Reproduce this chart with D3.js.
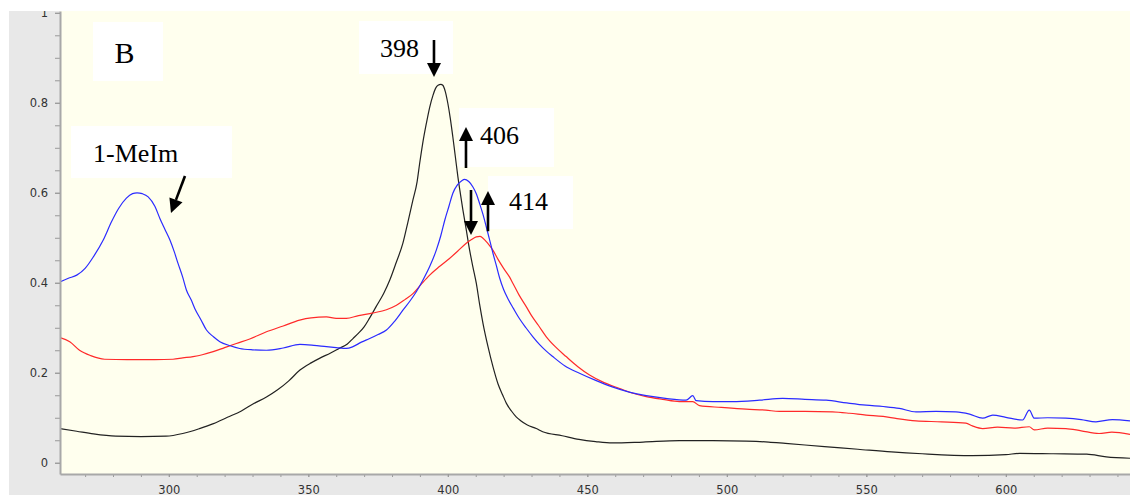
<!DOCTYPE html>
<html>
<head>
<meta charset="utf-8">
<script src="https://cdn.jsdelivr.net/npm/d3@7"></script>
<style>
body { margin: 0; background: #fff; }
.axis text { font-family: "DejaVu Sans", sans-serif; font-size: 11.5px; fill: #333; }
.axis line { stroke: #999; }
.axis path { stroke: #a8a8a8; stroke-width: 2px; }
.note { font-family: "Liberation Serif", "Times New Roman", serif; fill: #000; }
</style>
</head>
<body>
<div id="chart"></div>
<script>
/* spectra: wavelength (nm) and absorbance */
var blackNm = [261, 267, 273, 281, 290, 299, 305, 311, 316, 321, 326, 330, 335, 339, 343, 347, 351, 354, 358, 361, 364, 366, 368, 370, 372, 374.4, 377, 379.2, 381.5, 383.9, 385.7, 387.5, 389, 389.9, 391, 392.3, 393.5, 394.7, 395.6, 396.5, 397.5, 398.2, 399.1, 400, 400.9, 401.8, 402.7, 403.6, 404.5, 405.4, 406.6, 407.8, 409, 410.2, 411.4, 412.6, 414.4, 416.2, 418, 419.7, 421, 422.8, 424.5, 426, 428.5, 431.7, 434, 441, 447, 453, 459, 470, 483, 495, 507, 515, 521, 535, 547, 559, 570, 588, 600, 605, 617, 629, 636, 644.5];
var blackAbs = [0.076, 0.070, 0.064, 0.059, 0.058, 0.059, 0.065, 0.076, 0.087, 0.101, 0.115, 0.130, 0.146, 0.162, 0.182, 0.206, 0.222, 0.232, 0.244, 0.254, 0.264, 0.276, 0.288, 0.302, 0.322, 0.348, 0.376, 0.406, 0.445, 0.488, 0.535, 0.584, 0.625, 0.665, 0.710, 0.754, 0.790, 0.817, 0.832, 0.839, 0.841, 0.839, 0.825, 0.799, 0.765, 0.724, 0.680, 0.636, 0.598, 0.562, 0.518, 0.473, 0.435, 0.399, 0.352, 0.310, 0.258, 0.213, 0.175, 0.150, 0.132, 0.115, 0.102, 0.094, 0.084, 0.076, 0.069, 0.060, 0.052, 0.047, 0.044, 0.046, 0.049, 0.049, 0.048, 0.046, 0.043, 0.036, 0.030, 0.024, 0.020, 0.016, 0.018, 0.021, 0.020, 0.019, 0.013, 0.010];

var blueNm = [261, 264, 267, 270, 273, 276.5, 279.5, 282, 284.8, 287, 288.6, 290.5, 292.6, 295, 296.8, 298.5, 300.4, 302, 303.3, 305, 306.3, 308, 309.3, 311.5, 313.5, 316, 318.3, 322, 325.4, 330, 335, 341, 347, 352, 356.5, 360, 363.6, 366, 369, 372, 375, 378, 381, 383.9, 386.5, 388.7, 391, 393.5, 395.9, 397.5, 398.9, 400.4, 401.8, 403.5, 405, 406, 407.5, 409, 410.2, 411.4, 412.6, 413.8, 415, 416.2, 417.4, 418.6, 420, 421.5, 423.5, 425.7, 428, 430.5, 433, 435.3, 437.6, 442, 447.2, 453, 459.2, 465, 471.1, 478, 485.4, 487.8, 489, 495, 502, 511.7, 520, 528, 535.6, 543, 549.9, 556, 561.8, 567.8, 575, 582.1, 587, 591.7, 595.3, 600, 606, 608.4, 610.2, 615, 621.5, 627, 632.3, 638.2, 644.5];
var blueAbs = [0.402, 0.410, 0.417, 0.432, 0.458, 0.495, 0.536, 0.565, 0.588, 0.598, 0.600, 0.598, 0.591, 0.570, 0.543, 0.520, 0.495, 0.468, 0.443, 0.412, 0.384, 0.362, 0.343, 0.318, 0.295, 0.280, 0.269, 0.260, 0.254, 0.251, 0.250, 0.255, 0.263, 0.261, 0.258, 0.256, 0.254, 0.258, 0.268, 0.276, 0.285, 0.295, 0.315, 0.339, 0.360, 0.380, 0.405, 0.436, 0.473, 0.505, 0.539, 0.570, 0.599, 0.618, 0.627, 0.630, 0.625, 0.613, 0.598, 0.576, 0.552, 0.524, 0.495, 0.465, 0.438, 0.410, 0.385, 0.365, 0.343, 0.320, 0.300, 0.280, 0.262, 0.248, 0.236, 0.215, 0.199, 0.183, 0.168, 0.157, 0.149, 0.143, 0.139, 0.149, 0.138, 0.136, 0.136, 0.139, 0.143, 0.141, 0.139, 0.133, 0.128, 0.125, 0.121, 0.113, 0.114, 0.113, 0.108, 0.099, 0.106, 0.101, 0.095, 0.117, 0.099, 0.100, 0.099, 0.096, 0.091, 0.096, 0.093];

var redNm = [261, 264.5, 268, 272, 277, 285, 295, 301.5, 305, 308.7, 312, 315.9, 320, 324.2, 329, 335, 341, 346.9, 351, 356.5, 360, 363.6, 368, 373.2, 378, 381.6, 384.5, 387.5, 390.5, 393.5, 397, 400.6, 403.5, 406.6, 408.5, 410.2, 411.5, 412.6, 414.4, 416.2, 418, 420, 422.1, 423.3, 425.5, 428.1, 430, 432.5, 435.3, 438.5, 442.4, 446.5, 450.8, 456, 461.6, 466, 471.1, 477, 483, 487.8, 490.2, 498, 506.9, 514, 518.8, 528, 537.9, 544, 549.9, 556, 561, 567.8, 577, 585.7, 588, 591.7, 597, 603, 608.4, 610.2, 615, 621.5, 627, 633.4, 638, 644.5];
var redAbs = [0.278, 0.269, 0.250, 0.238, 0.230, 0.229, 0.229, 0.230, 0.233, 0.236, 0.240, 0.247, 0.256, 0.265, 0.275, 0.291, 0.304, 0.317, 0.322, 0.324, 0.321, 0.321, 0.327, 0.333, 0.340, 0.350, 0.362, 0.376, 0.397, 0.417, 0.436, 0.454, 0.470, 0.488, 0.496, 0.502, 0.503, 0.499, 0.487, 0.472, 0.452, 0.432, 0.413, 0.399, 0.373, 0.347, 0.327, 0.305, 0.280, 0.258, 0.236, 0.214, 0.195, 0.178, 0.165, 0.155, 0.147, 0.141, 0.136, 0.136, 0.127, 0.123, 0.119, 0.117, 0.114, 0.114, 0.113, 0.110, 0.106, 0.103, 0.098, 0.093, 0.091, 0.088, 0.082, 0.076, 0.079, 0.077, 0.080, 0.073, 0.077, 0.076, 0.071, 0.065, 0.068, 0.063];

var xTicks = [300, 350, 400, 450, 500, 550, 600];
var xMinor = d3.range(270, 650, 10);
var yTicks = [0, 0.2, 0.4, 0.6, 0.8, 1];
var yMinor = d3.range(0, 1.001, 0.05);

/* text notes and arrows, in data units */
var notes = [
  { text: "B", size: 30, box: [272.83, 0.9796, 297.92, 0.8484], at: [284.12, 0.8880], anchor: "middle" },
  { text: "1-MeIm", size: 26, box: [264.94, 0.7484, 322.65, 0.6329], at: [272.83, 0.6695], anchor: "start" },
  { text: "398", size: 26, box: [368.16, 0.9817, 401.85, 0.8640], at: [375.69, 0.9024], anchor: "start" },
  { text: "406", size: 26, box: [404.0, 0.7884, 438.06, 0.6573], at: [411.53, 0.7084], anchor: "start" },
  { text: "414", size: 26, box: [414.4, 0.6373, 444.86, 0.5195], at: [421.93, 0.5617], anchor: "start" }
];
var arrows = [
  { from: [395.04, 0.9395], to: [395.04, 0.8573] },
  { from: [406.51, 0.6551], to: [406.51, 0.7462] },
  { from: [414.4, 0.5145], to: [414.4, 0.6039] },
  { from: [408.31, 0.6062], to: [408.31, 0.5062] },
  { from: [305.80, 0.6373], to: [300.78, 0.5551] }
];

var series = [
  { color: "#222222", nm: blackNm, abs: blackAbs },
  { color: "#ff2a2a", nm: redNm, abs: redAbs },
  { color: "#2b2bff", nm: blueNm, abs: blueAbs }
];

var width = 1130;
var height = 495;
var plotLeft = 60, plotTop = 11, plotRight = 1130, plotBottom = 474;

var x = d3.scaleLinear().domain([261, 644.5]).range([plotLeft, plotRight]);
var y = d3.scaleLinear().domain([-0.025, 1.004]).range([plotBottom, plotTop]);

var svg = d3.select("#chart").append("svg")
  .attr("width", width)
  .attr("height", height);

var defs = svg.append("defs");
defs.append("clipPath").attr("id", "panel")
  .append("rect").attr("x", 9).attr("y", 11).attr("width", width - 9).attr("height", height - 11);
defs.append("clipPath").attr("id", "plot")
  .append("rect").attr("x", plotLeft).attr("y", plotTop)
  .attr("width", plotRight - plotLeft).attr("height", plotBottom - plotTop);

var panel = svg.append("g").attr("clip-path", "url(#panel)");

panel.append("rect")
  .attr("x", 9).attr("y", 11)
  .attr("width", width - 9).attr("height", height - 11)
  .attr("fill", "#e8e8e8");

panel.append("rect")
  .attr("x", plotLeft).attr("y", plotTop)
  .attr("width", plotRight - plotLeft).attr("height", plotBottom - plotTop)
  .attr("fill", "#ffffee");

/* curves */
var line = d3.line()
  .x(d => x(d[0]))
  .y(d => y(d[1]))
  .curve(d3.curveMonotoneX);

var curves = panel.append("g").attr("clip-path", "url(#plot)");
curves.selectAll("path")
  .data(series).enter()
  .append("path")
  .attr("d", s => line(s.nm.map((n, i) => [n, s.abs[i]])))
  .attr("fill", "none")
  .attr("stroke", s => s.color)
  .attr("stroke-width", 1.2);

/* axes */
panel.append("g")
  .attr("class", "axis")
  .attr("transform", `translate(0, ${plotBottom})`)
  .call(d3.axisBottom(x).tickValues(xMinor).tickSize(3).tickFormat(""))
  .call(g => g.select(".domain").remove());

panel.append("g")
  .attr("class", "axis")
  .attr("transform", `translate(0, ${plotBottom})`)
  .call(d3.axisBottom(x).tickValues(xTicks).tickSize(3).tickSizeOuter(0).tickPadding(9));

panel.append("g")
  .attr("class", "axis")
  .attr("transform", `translate(${plotLeft}, 0)`)
  .call(d3.axisLeft(y).tickValues(yMinor).tickSize(5).tickFormat(""))
  .call(g => g.select(".domain").remove());

panel.append("g")
  .attr("class", "axis")
  .attr("transform", `translate(${plotLeft}, 0)`)
  .call(d3.axisLeft(y).tickValues(yTicks).tickSize(5).tickSizeOuter(0).tickPadding(7)
    .tickFormat(d => +d.toFixed(1)));

/* notes */
var noteG = panel.append("g").attr("clip-path", "url(#plot)");
noteG.selectAll("rect")
  .data(notes).enter()
  .append("rect")
  .attr("x", d => x(d.box[0]))
  .attr("y", d => y(d.box[1]))
  .attr("width", d => x(d.box[2]) - x(d.box[0]))
  .attr("height", d => y(d.box[3]) - y(d.box[1]))
  .attr("fill", "#fff");

noteG.selectAll("text")
  .data(notes).enter()
  .append("text")
  .attr("class", "note")
  .attr("x", d => x(d.at[0]))
  .attr("y", d => y(d.at[1]))
  .attr("text-anchor", d => d.anchor)
  .style("font-size", d => d.size + "px")
  .text(d => d.text);

var headLen = 14, headHalf = 7;
arrows.forEach(function (a) {
  var x0 = x(a.from[0]), y0 = y(a.from[1]);
  var x1 = x(a.to[0]), y1 = y(a.to[1]);
  var ang = Math.atan2(y1 - y0, x1 - x0);
  var bx = x1 - headLen * Math.cos(ang), by = y1 - headLen * Math.sin(ang);
  noteG.append("line")
    .attr("x1", x0).attr("y1", y0)
    .attr("x2", bx).attr("y2", by)
    .attr("stroke", "#000")
    .attr("stroke-width", 2.6);
  var px = -Math.sin(ang) * headHalf, py = Math.cos(ang) * headHalf;
  noteG.append("path")
    .attr("d", `M${x1},${y1}L${bx + px},${by + py}L${bx - px},${by - py}Z`)
    .attr("fill", "#000");
});
</script>
</body>
</html>
